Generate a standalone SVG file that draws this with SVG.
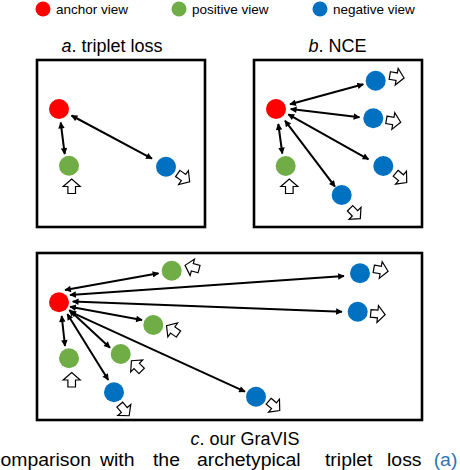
<svg xmlns="http://www.w3.org/2000/svg" xmlns:xlink="http://www.w3.org/1999/xlink" width="460" height="470" viewBox="0 0 460 470">
<style>
text{font-family:"Liberation Sans","DejaVu Sans",sans-serif;fill:#000}
.leg{font-size:13.5px}
.ttl{font-size:18px;text-anchor:middle}
.cap{font-size:18.5px}
.box{fill:none;stroke:#000;stroke-width:2.6}
.a{fill:#FF0000}.p{fill:#70AD47}.n{fill:#0070C0}
.ln{stroke:#000;stroke-width:2;fill:none;marker-start:url(#ah);marker-end:url(#ah)}
.ha{fill:#fff;stroke:#000;stroke-width:1.2;stroke-linejoin:miter}
</style>
<defs>
<marker id="ah" viewBox="0 0 10 10" refX="9" refY="5" markerWidth="7.5" markerHeight="6.5" markerUnits="userSpaceOnUse" orient="auto-start-reverse">
<path d="M0,0 L10,5 L0,10 Z" fill="#000"/>
</marker>
<path id="hollow" class="ha" d="M-7,-3.8 H0 V-8.5 L7.5,0 L0,8.5 V3.8 H-7 Z"/>
</defs>

<g id="legend">
<circle class="a" cx="43" cy="9" r="7.5"/><text class="leg" x="56" y="13.5">anchor view</text>
<circle class="p" cx="179" cy="9" r="7.5"/><text class="leg" x="192" y="13.5">positive view</text>
<circle class="n" cx="320" cy="9" r="7.5"/><text class="leg" x="333" y="13.5">negative view</text>
</g>

<g id="titles">
<text class="ttl" x="112" y="52"><tspan font-style="italic">a</tspan>. triplet loss</text>
<text class="ttl" x="337.5" y="52"><tspan font-style="italic">b</tspan>. NCE</text>
<text class="ttl" x="245" y="445"><tspan font-style="italic">c</tspan>. our GraVIS</text>
</g>

<g id="frames">
<rect class="box" x="37" y="60" width="168" height="167"/>
<rect class="box" x="254" y="60" width="168" height="167"/>
<rect class="box" x="37" y="253" width="385" height="167"/>
</g>

<g id="connectors">
<line class="ln" x1="60.7" y1="122.5" x2="64.7" y2="154"/>
<line class="ln" x1="71.5" y1="115.5" x2="152" y2="158.7"/>
<line class="ln" x1="290" y1="104.3" x2="363.3" y2="84.3"/>
<line class="ln" x1="290.7" y1="109" x2="359.5" y2="117.3"/>
<line class="ln" x1="288.3" y1="114.3" x2="368.5" y2="159.3"/>
<line class="ln" x1="285" y1="120.7" x2="335" y2="186.7"/>
<line class="ln" x1="278.3" y1="124" x2="282.3" y2="153.5"/>
<line class="ln" x1="65" y1="290" x2="158.5" y2="273.3"/>
<line class="ln" x1="70" y1="295" x2="344" y2="276"/>
<line class="ln" x1="72.7" y1="301.5" x2="342" y2="311.7"/>
<line class="ln" x1="70" y1="306.7" x2="142" y2="320"/>
<line class="ln" x1="69.3" y1="310" x2="110" y2="347.7"/>
<line class="ln" x1="70" y1="311.7" x2="245" y2="391.7"/>
<line class="ln" x1="67.3" y1="314" x2="108.3" y2="380"/>
<line class="ln" x1="61.7" y1="316" x2="65" y2="346"/>
</g>

<g id="a-anchor"><circle class="a" cx="59" cy="109" r="10"/></g>
<g id="a-positive"><circle class="p" cx="69" cy="165.7" r="10"/><use xlink:href="#hollow" transform="translate(71.7,186.5) rotate(-90)"/></g>
<g id="a-negative"><circle class="n" cx="166" cy="166.7" r="10"/><use xlink:href="#hollow" transform="translate(183.5,177.5) rotate(35)"/></g>

<g id="b-anchor"><circle class="a" cx="276" cy="109" r="10"/></g>
<g id="b-positive"><circle class="p" cx="285.7" cy="166" r="10"/><use xlink:href="#hollow" transform="translate(289.3,186.5) rotate(-90)"/></g>
<g id="b-negative-1"><circle class="n" cx="375.7" cy="80.7" r="10"/><use xlink:href="#hollow" transform="translate(396.7,76.7) rotate(10)"/></g>
<g id="b-negative-2"><circle class="n" cx="373.3" cy="118.3" r="10"/><use xlink:href="#hollow" transform="translate(393.3,121) rotate(10)"/></g>
<g id="b-negative-3"><circle class="n" cx="383.3" cy="166" r="10"/><use xlink:href="#hollow" transform="translate(401,177.7) rotate(40)"/></g>
<g id="b-negative-4"><circle class="n" cx="341.7" cy="195" r="10"/><use xlink:href="#hollow" transform="translate(355,213.3) rotate(45)"/></g>

<g id="c-anchor"><circle class="a" cx="59" cy="302.3" r="10"/></g>
<g id="c-positive-1"><circle class="p" cx="171.7" cy="270.7" r="10"/><use xlink:href="#hollow" transform="translate(192.3,267.3) rotate(-165)"/></g>
<g id="c-positive-2"><circle class="p" cx="153.3" cy="325" r="10"/><use xlink:href="#hollow" transform="translate(172.7,330) rotate(-145)"/></g>
<g id="c-positive-3"><circle class="p" cx="120.7" cy="354" r="10"/><use xlink:href="#hollow" transform="translate(136.7,366) rotate(-135)"/></g>
<g id="c-positive-4"><circle class="p" cx="69" cy="358.3" r="10"/><use xlink:href="#hollow" transform="translate(71.7,380) rotate(-90)"/></g>
<g id="c-negative-1"><circle class="n" cx="114" cy="392.3" r="10"/><use xlink:href="#hollow" transform="translate(124.3,410) rotate(50)"/></g>
<g id="c-negative-2"><circle class="n" cx="360" cy="273.3" r="10"/><use xlink:href="#hollow" transform="translate(380.7,270) rotate(10)"/></g>
<g id="c-negative-3"><circle class="n" cx="357.7" cy="311.7" r="10"/><use xlink:href="#hollow" transform="translate(377.7,314) rotate(5)"/></g>
<g id="c-negative-4"><circle class="n" cx="256" cy="396.7" r="10"/><use xlink:href="#hollow" transform="translate(274,405.7) rotate(40)"/></g>

<g id="caption" transform="scale(1.05,1)">
<text class="cap" y="466.5"><tspan x="0.5">omparison</tspan><tspan x="95.2">with</tspan><tspan x="145.7">the</tspan><tspan x="187.6">archetypical</tspan><tspan x="309.5">triplet</tspan><tspan x="368.6">loss</tspan><tspan x="413" fill="#2E75B6">(a)</tspan></text>
</g>
</svg>
